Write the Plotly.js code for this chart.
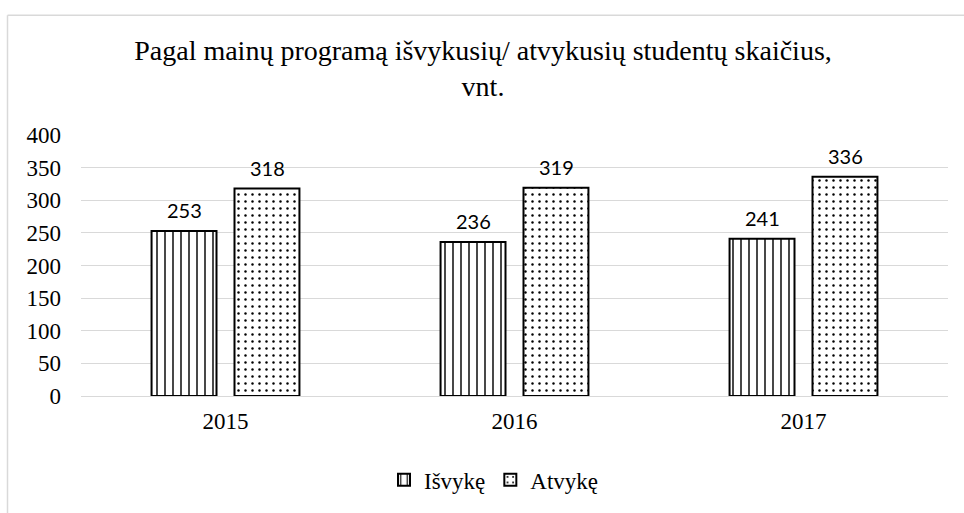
<!DOCTYPE html>
<html><head><meta charset="utf-8">
<script src="https://cdn.plot.ly/plotly-3.0.1.min.js"></script>
<style>html,body{margin:0;padding:0;background:#fff}#c{width:964px;height:513px}</style>
</head><body><div id="c"></div>
<script>
const categories = ['2015', '2016', '2017'];
const isvyke = [253, 236, 241];
const atvyke = [318, 319, 336];
const seriesNames = ['Išvykę', 'Atvykę'];
const yTicks = [0, 50, 100, 150, 200, 250, 300, 350, 400];

const serif = 'Liberation Serif, Times New Roman, serif';
const labelFont = {family: 'Lato, Open Sans, sans-serif', size: 20, color: '#000'};

const W = 964, H = 513, L = 81, R = 16, T = 135, B = 113;
const pw = W - L - R, ph = H - T - B;
const px = v => (v - L) / pw;
const py = v => (H - B - v) / ph;

const traces = [
  {type: 'bar', name: seriesNames[0], x: categories, y: isvyke,
   marker: {color: '#fff', line: {color: '#000', width: 2},
            pattern: {shape: '|', fgcolor: '#000', bgcolor: '#fff', size: 8, solidity: 0.18}}},
  {type: 'bar', name: seriesNames[1], x: categories, y: atvyke,
   marker: {color: '#fff', line: {color: '#000', width: 2},
            pattern: {shape: '.', fgcolor: '#000', bgcolor: '#fff', size: 7, solidity: 0.1}}}
];

const series = [isvyke, atvyke];
const shifts = [-41.5, 41.5];
const annotations = [];
series.forEach((vals, s) => {
  vals.forEach((v, i) => {
    annotations.push({x: i, y: v, xref: 'x', yref: 'y', text: String(v),
      showarrow: false, yanchor: 'bottom', xanchor: 'center', xshift: shifts[s], yshift: 7,
      font: labelFont});
  });
});

const layout = {
  width: W, height: H,
  margin: {l: L, r: R, t: T, b: B},
  paper_bgcolor: '#fff', plot_bgcolor: '#fff',
  font: {family: serif, color: '#000'},
  title: {text: 'Pagal mainų programą išvykusių/ atvykusių studentų skaičius,<br>vnt.',
          font: {family: serif, size: 28, color: '#000'},
          x: 483 / W, xanchor: 'center', xref: 'container',
          y: 1 - 60 / H, yanchor: 'middle', yref: 'container'},
  barmode: 'group', bargap: 0.426, bargroupgap: 0.217,
  showlegend: true,
  legend: {orientation: 'h', x: px(494), xanchor: 'center', y: py(485), yanchor: 'middle',
           font: {family: serif, size: 23, color: '#000'}, itemwidth: 30, traceorder: 'normal'},
  annotations: annotations,
  xaxis: {type: 'category', showgrid: false, showline: true, linecolor: '#d9d9d9', linewidth: 1,
          ticks: '', tickfont: {family: serif, size: 23, color: '#000'}, ticklabelstandoff: 4,
          zeroline: false},
  yaxis: {range: [0, 400], tickvals: yTicks, showgrid: true, gridcolor: '#d9d9d9', gridwidth: 1,
          zeroline: false, showline: false, ticks: '',
          tickfont: {family: serif, size: 23, color: '#000'}, ticklabelstandoff: 19},
  shapes: [
    {type: 'line', xref: 'paper', yref: 'paper', x0: px(7.5), x1: px(7.5), y0: py(13.5), y1: py(520),
     line: {color: '#d9d9d9', width: 1.5}},
    {type: 'line', xref: 'paper', yref: 'paper', x0: px(7.5), x1: px(970), y0: py(13.5), y1: py(13.5),
     line: {color: '#d9d9d9', width: 1.5}}
  ]
};

Plotly.newPlot('c', traces, layout, {displayModeBar: false, staticPlot: true});
</script></body></html>
